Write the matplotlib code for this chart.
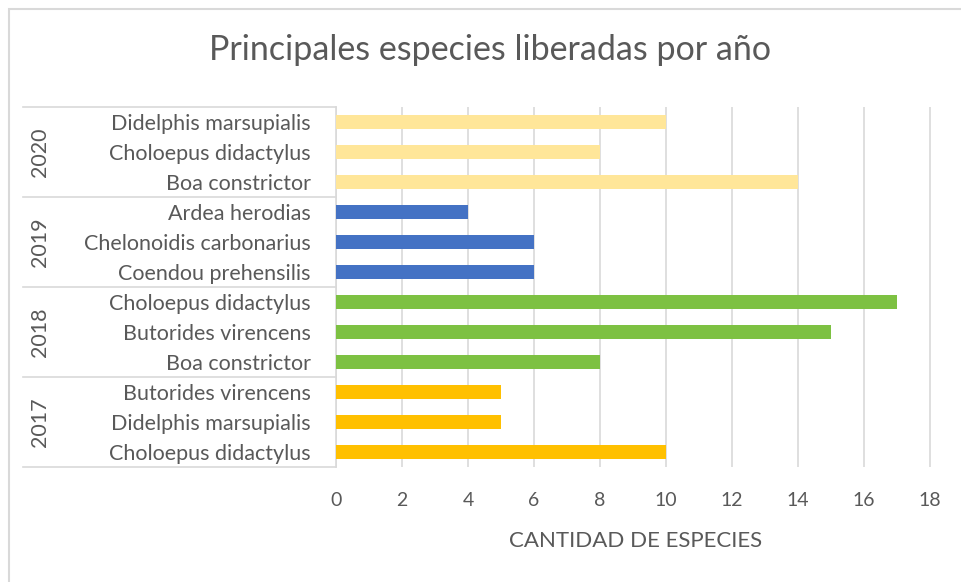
import matplotlib
matplotlib.use("Agg")
import matplotlib.pyplot as plt
import matplotlib.transforms as mtrans
from matplotlib.patches import Rectangle

years = ["2017", "2018", "2019", "2020"]
species = {
    "2017": ["Choloepus didactylus", "Didelphis marsupialis", "Butorides virencens"],
    "2018": ["Boa constrictor", "Butorides virencens", "Choloepus didactylus"],
    "2019": ["Coendou prehensilis", "Chelonoidis carbonarius", "Ardea herodias"],
    "2020": ["Boa constrictor", "Choloepus didactylus", "Didelphis marsupialis"],
}
values = {
    "2017": [10, 5, 5],
    "2018": [8, 15, 17],
    "2019": [6, 6, 4],
    "2020": [14, 8, 10],
}
colors = {"2017": "#FFC000", "2018": "#7DC142", "2019": "#4472C4", "2020": "#FFE699"}
xticks = [0, 2, 4, 6, 8, 10, 12, 14, 16, 18]

plt.rcParams['font.family'] = ['Lato', 'DejaVu Sans']
txt = "#595959"
grid = "#D9D9D9"

fig = plt.figure(figsize=(9.61, 5.82), dpi=100)
ax = fig.add_axes([336/961, 1-467/582, 600/961, 360/582])

pos = 0
labels = []
ypos = []
for yr in years:
    for sp, v in zip(species[yr], values[yr]):
        ax.barh(pos, v, height=0.47, color=colors[yr], zorder=3)
        labels.append(sp)
        ypos.append(pos)
        pos += 1

n = pos
ax.set_ylim(-0.5, n - 0.5)
ax.set_xlim(0, 18 * 600 / 594)
ax.set_xticks(xticks)
ax.set_xticklabels([str(t) for t in xticks], color=txt, fontsize=14)
ax.set_yticks(ypos)
ax.set_yticklabels(labels, color=txt, fontsize=15.5)
ax.tick_params(axis='y', length=0, pad=18)
ax.tick_params(axis='x', length=0, pad=18)
for s in ["top", "right", "bottom"]:
    ax.spines[s].set_visible(False)
ax.spines["left"].set_color(grid)
ax.spines["left"].set_linewidth(1.2)
ax.grid(axis='x', color=grid, linewidth=1.2, zorder=0)
ax.set_axisbelow(True)

ax.set_xlabel("CANTIDAD DE ESPECIES", color=txt, fontsize=16, labelpad=16)

# category group separators and year labels
tr = mtrans.blended_transform_factory(ax.transAxes, ax.transData)
xl = (23 - 336) / 600
for k in range(len(years) + 1):
    yb = -0.5 + 3 * k
    ax.plot([xl, 0], [yb, yb], transform=tr, color=grid, lw=1.2, clip_on=False)
for k, yr in enumerate(years):
    ax.text((40 - 336) / 600, 3 * k + 1, yr, transform=tr, rotation=90,
            ha='center', va='center', color=txt, fontsize=15.5)

fig.text(490/961, 1 - 50/582, "Principales especies liberadas por año", ha='center',
         va='center', color=txt, fontsize=24.5)

fig.patches.append(Rectangle((9/961, -20/582), 980/961, (582 - 9 + 20)/582,
                             transform=fig.transFigure, fill=False,
                             edgecolor=grid, lw=1.5))

fig.savefig("out.png", dpi=100, facecolor="white")
